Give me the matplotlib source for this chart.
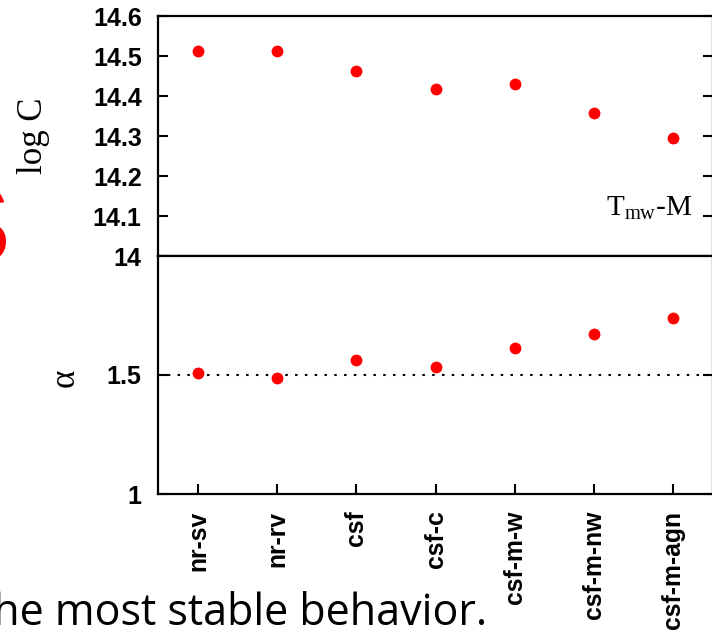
"""Normalisation and slope of the Tmw-M relation for each simulation run."""

import matplotlib.pyplot as plt

runs = ["nr-sv", "nr-rv", "csf", "csf-c", "csf-m-w", "csf-m-nw", "csf-m-agn"]
log_c = [14.513, 14.513, 14.463, 14.417, 14.429, 14.357, 14.295]
alpha = [1.510, 1.486, 1.564, 1.533, 1.613, 1.671, 1.739]

log_c_ticks = [14.0, 14.1, 14.2, 14.3, 14.4, 14.5, 14.6]
log_c_labels = ["14", "14.1", "14.2", "14.3", "14.4", "14.5", "14.6"]
alpha_ticks = [1.0, 1.5]
alpha_labels = ["1", "1.5"]
self_similar_alpha = 1.5

W, H = 712, 632
plt.rcParams["mathtext.fontset"] = "custom"
plt.rcParams["mathtext.rm"] = "Liberation Serif"

fig = plt.figure(figsize=(W / 100, H / 100), dpi=100)


def frac_box(left, top, right, bottom):
    return [left / W, 1 - bottom / H, (right - left) / W, (bottom - top) / H]


ax_top = fig.add_axes(frac_box(158.4, 16, 712.6, 256))
ax_bot = fig.add_axes(frac_box(158.4, 256, 712.6, 494))

x = range(1, len(runs) + 1)
tick_font = dict(family="Liberation Sans", weight="bold", size=18)
xtick_font = dict(family="Liberation Sans", weight="bold", size=17.8)

for ax in (ax_top, ax_bot):
    ax.set_xlim(0.5, len(runs) + 0.5)
    for spine in ax.spines.values():
        spine.set_linewidth(1.6)
    ax.tick_params(axis="y", direction="in", length=7, width=1.5,
                   right=True, pad=12)
    ax.tick_params(axis="x", direction="in", length=7, width=1.5)

ax_top.plot(x, log_c, "o", color="red", markersize=7.5)
ax_top.set_ylim(14.0, 14.6)
ax_top.set_yticks(log_c_ticks)
ax_top.set_yticklabels(log_c_labels, fontdict=tick_font)
ax_top.set_xticks([])
ax_top.text(0.963, 0.171, r"T$_{\mathrm{mw}}$-M", transform=ax_top.transAxes,
            ha="right", va="baseline", family="Liberation Serif", size=21)

ax_bot.axhline(self_similar_alpha, color="black", linewidth=1.5,
               dashes=(1.2, 3.5), zorder=1)
ax_bot.plot(x, alpha, "o", color="red", markersize=7.5, zorder=2)
ax_bot.set_ylim(1.0, 2.0)
ax_bot.set_yticks(alpha_ticks)
ax_bot.set_yticklabels(alpha_labels, fontdict=tick_font)
ax_bot.set_xticks(list(x))
ax_bot.set_xticklabels(runs, fontdict=xtick_font, rotation=90)
ax_bot.tick_params(axis="x", pad=12)

fig.text(33 / W, 1 - 136 / H, "log C", rotation=90, ha="center", va="center",
         family="Liberation Serif", size=25)
fig.text(65 / W, 1 - 378 / H, "\u03b1", rotation=90, ha="center", va="center",
         family="Liberation Serif", size=25)

# slide text around the figure, partly off the edge
fig.text(11 / W, 1 - 234 / H, "S", color="red", ha="right", va="center",
         family="Liberation Sans", size=80)
fig.text(487 / W, 1 - 625 / H, "the most stable behavior.", ha="right",
         va="baseline", family="Open Sans", size=31)

fig.savefig("out.png", dpi=100)
